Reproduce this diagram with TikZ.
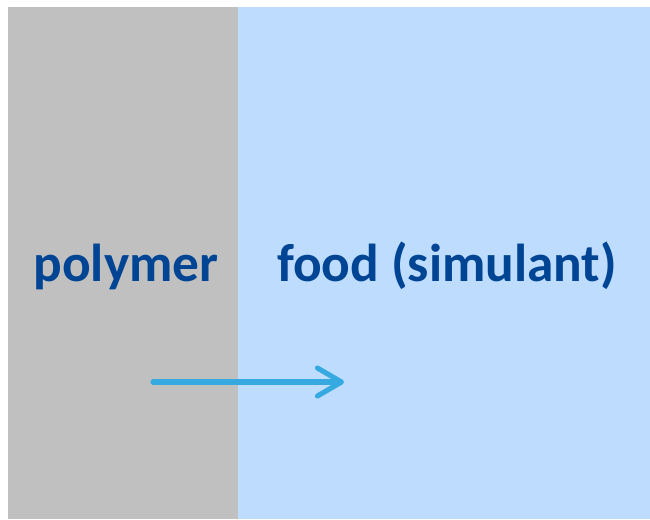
\documentclass[tikz,border=0pt]{standalone}
\usepackage{fontspec}
\setmainfont{Carlito}
\usetikzlibrary{arrows.meta}
\definecolor{polygray}{HTML}{C0C0C0}
\definecolor{foodblue}{HTML}{BDDCFE}
\definecolor{labelblue}{HTML}{004494}
\definecolor{flowblue}{HTML}{36A9E1}
\begin{document}
\begin{tikzpicture}[x=0.75pt,y=-0.75pt,
  region/.style={draw=none,inner sep=0pt,outer sep=0pt,anchor=north west},
  regionlabel/.style={text=labelblue,font=\fontsize{40}{48}\selectfont\bfseries,inner sep=0pt,anchor=base},
  flow/.style={draw=flowblue,line width=3.8pt,line cap=round,
    -{Straight Barb[length=18pt,width=21pt,line join=round,line cap=round]}}]
  \useasboundingbox (0,0) rectangle (650,519);
  % polymer layer and food layer
  \node[region,fill=polygray,minimum width=230*0.75pt,minimum height=512*0.75pt] (poly) at (8,7) {};
  \node[region,fill=foodblue,minimum width=412*0.75pt,minimum height=512*0.75pt] (food) at (238,7) {};
  % labels
  \node[regionlabel] (polylabel) at (126,281) {polymer};
  \node[regionlabel] (foodlabel) at (447,281) {food (simulant)};
  % migration arrow
  \coordinate (from) at (153,382);
  \coordinate (to) at (344,382);
  \draw[flow] (from) -- (to);
\end{tikzpicture}
\end{document}
